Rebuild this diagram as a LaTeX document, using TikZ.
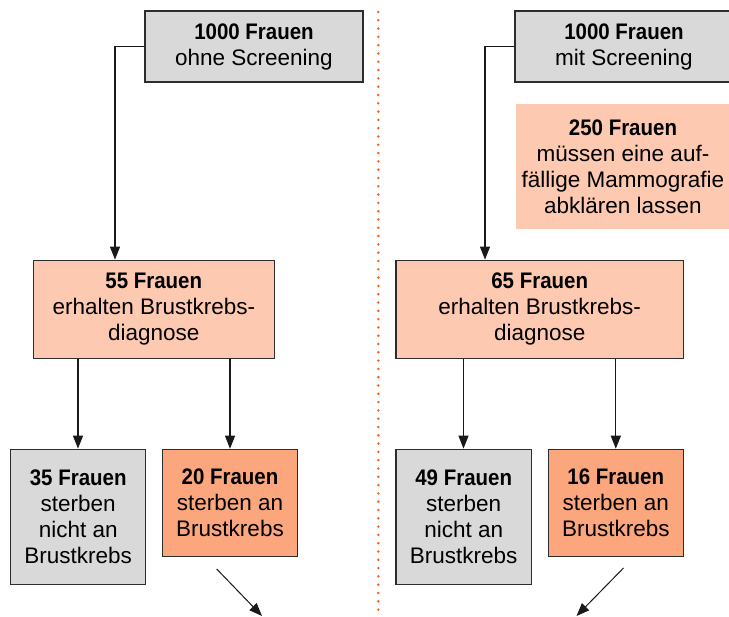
\documentclass[tikz,border=0pt]{standalone}
\usepackage{fontspec}
\setmainfont{Liberation Sans}[BoldFeatures={FakeStretch=0.91}]
\usetikzlibrary{arrows.meta}
\definecolor{boxgray}{RGB}{217,217,217}
\definecolor{peach}{RGB}{253,201,176}
\definecolor{deeppeach}{RGB}{252,166,126}
\definecolor{bordergray}{RGB}{45,45,45}
\definecolor{dotorange}{RGB}{245,100,30}
\tikzset{
  box/.style={draw=bordergray, line width=1.2pt, align=center, inner sep=0pt,
    font=\fontsize{22.5}{26}\selectfont},
  plainbox/.style={align=center, inner sep=0pt, font=\fontsize{22.5}{26}\selectfont},
  conn/.style={draw=black!90, line width=1.2pt, -{Triangle[length=13pt,width=10pt]}},
}
\begin{document}
\begin{tikzpicture}[x=1pt,y=-1pt]
\useasboundingbox (0,0) rectangle (729,617);
\clip (0,0) rectangle (729,617);
% divider
\draw[dotorange, line width=2.8pt, line cap=round, dash pattern=on 0pt off 8.3pt] (378.3,12) -- (378.3,617);
% left column
\node[box, fill=boxgray, minimum width=218pt, minimum height=71pt] (A) at (254,46.6) {\textbf{1000 Frauen}\\ohne Screening};
\node[box, fill=peach, minimum width=241pt, minimum height=98pt] (B) at (153.8,309.2) {\textbf{55 Frauen}\\erhalten Brustkrebs-\\diagnose};
\node[box, fill=boxgray, minimum width=135pt, minimum height=135pt] (C) at (78.2,516.7) {\textbf{35 Frauen}\\sterben\\nicht an\\Brustkrebs};
\node[box, fill=deeppeach, minimum width=134.6pt, minimum height=107pt] (D) at (230,502.8) {\textbf{20 Frauen}\\sterben an\\Brustkrebs};
\coordinate (Ls) at (216.7,569);
\coordinate (Le) at (262,616);
% right column
\node[box, fill=boxgray, minimum width=218pt, minimum height=71pt] (A2) at (624,46.6) {\textbf{1000 Frauen}\\mit Screening};
\node[plainbox, fill=peach, minimum width=214pt, minimum height=125pt] (P) at (623,166.5) {\textbf{250 Frauen}\\müssen eine auf-\\fällige Mammografie\\abklären lassen};
\node[box, fill=peach, minimum width=287.3pt, minimum height=98pt] (B2) at (539.7,309.2) {\textbf{65 Frauen}\\erhalten Brustkrebs-\\diagnose};
\node[box, fill=boxgray, minimum width=135.3pt, minimum height=135pt] (C2) at (463.7,516.7) {\textbf{49 Frauen}\\sterben\\nicht an\\Brustkrebs};
\node[box, fill=deeppeach, minimum width=135pt, minimum height=107pt] (D2) at (615.8,502.8) {\textbf{16 Frauen}\\sterben an\\Brustkrebs};
\coordinate (Rs) at (623.5,568);
\coordinate (Re) at (576.5,616);
% connectors
\draw[conn] (A.west) -| (B.north -| 115,0);
\draw[conn] (B.south -| 78,0) -- (C.north -| 78,0);
\draw[conn] (B.south -| 230,0) -- (D.north);
\draw[conn, line width=1pt] (Ls) -- (Le);
\draw[conn] (A2.west) -| (B2.north -| 485,0);
\draw[conn] (B2.south -| 463.5,0) -- (C2.north -| 463.5,0);
\draw[conn] (B2.south -| 615.8,0) -- (D2.north);
\draw[conn, line width=1pt] (Rs) -- (Re);
\end{tikzpicture}
\end{document}
